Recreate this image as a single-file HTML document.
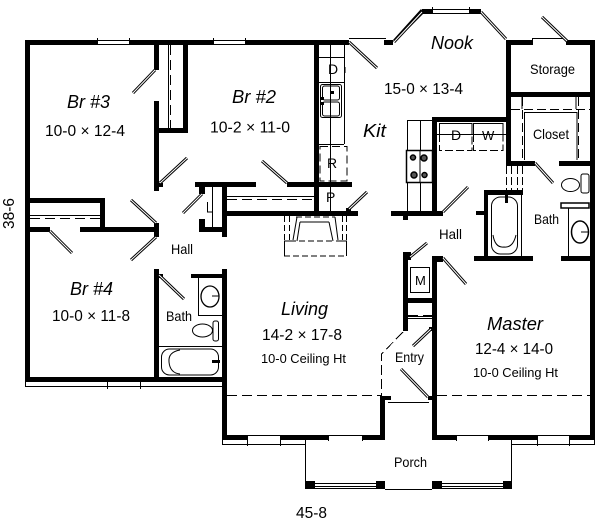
<!DOCTYPE html>
<html><head><meta charset="utf-8"><style>
html,body{margin:0;padding:0;background:#fff}
svg{display:block}
text{font-family:"Liberation Sans",sans-serif;fill:#000}
.i{font-style:italic;font-size:18px}
.d{font-size:16px}.s{font-size:14px}.c{font-size:12.5px}.t{font-size:13px}
.l{fill:none;stroke:#000;stroke-width:1}
.e{fill:none;stroke:#000;stroke-width:1;stroke-dasharray:10 5}
.f{fill:none;stroke:#000;stroke-width:3}
.g{fill:none;stroke:#fff;stroke-width:1}
</style></head><body>
<svg width="600" height="524" viewBox="0 0 600 524" xmlns="http://www.w3.org/2000/svg">
<rect width="600" height="524" fill="#fff"/>
<g fill="#000" shape-rendering="crispEdges">
<!-- outer top -->
<rect x="25" y="40" width="72" height="5"/><rect x="129" y="40" width="84" height="5"/><rect x="245" y="40" width="104" height="5"/>
<rect x="384" y="40" width="9" height="5"/><rect x="506" y="40" width="27" height="5"/><rect x="566" y="40" width="29" height="5"/>
<!-- outer left/right -->
<rect x="25" y="40" width="5" height="341"/><rect x="590" y="40" width="5" height="400"/>
<rect x="25" y="377" width="197" height="5"/>
<rect x="222" y="269" width="5" height="171"/>
<!-- bottom -->
<rect x="222" y="435" width="25" height="5"/><rect x="280" y="435" width="48" height="5"/><rect x="362" y="435" width="22" height="5"/>
<rect x="380" y="396" width="5" height="44"/><rect x="381" y="396" width="10" height="4"/>
<rect x="432" y="435" width="24" height="5"/><rect x="488" y="435" width="49" height="5"/><rect x="569" y="435" width="26" height="5"/>
<rect x="432" y="256" width="5" height="184"/><rect x="432" y="256" width="11" height="6"/>
<!-- Br3/Br2 -->
<rect x="154" y="45" width="5" height="25"/><rect x="154" y="101" width="5" height="90"/>
<rect x="183" y="45" width="5" height="88"/><rect x="154" y="128" width="34" height="5"/>
<rect x="159" y="183" width="4" height="4"/>
<!-- Br3 closet -->
<rect x="30" y="198" width="75" height="5"/><rect x="100" y="198" width="5" height="34"/>
<rect x="30" y="227" width="20" height="5"/><rect x="80" y="227" width="79" height="5"/><rect x="154" y="223" width="5" height="14"/>
<!-- lower left -->
<rect x="154" y="269" width="5" height="108"/><rect x="159" y="274" width="4" height="4"/><rect x="191" y="274" width="31" height="4"/>
<!-- centre -->
<rect x="195" y="182" width="61" height="5"/><rect x="287" y="182" width="65" height="5"/>
<rect x="222" y="182" width="5" height="55"/><rect x="199" y="187" width="6" height="7"/><rect x="199" y="219" width="6" height="13"/><rect x="199" y="227" width="28" height="5"/>
<rect x="227" y="211" width="131" height="5"/><rect x="314" y="45" width="5" height="171"/>
<rect x="346" y="208" width="5" height="4"/>
<!-- right of kitchen -->
<rect x="391" y="211" width="52" height="5"/><rect x="403" y="216" width="5" height="4"/>
<rect x="432" y="117" width="5" height="98"/><rect x="432" y="117" width="74" height="5"/>
<rect x="506" y="40" width="5" height="126"/><rect x="506" y="92" width="89" height="5"/>
<rect x="506" y="161" width="29" height="5"/><rect x="559" y="161" width="31" height="5"/>
<!-- master bath -->
<rect x="484" y="190" width="39" height="5"/><rect x="484" y="190" width="4" height="71"/><rect x="476" y="211" width="8" height="4"/>
<rect x="474" y="256" width="59" height="5"/><rect x="561" y="256" width="29" height="5"/>
<!-- hall/entry -->
<rect x="403" y="252" width="5" height="79"/><rect x="403" y="252" width="8" height="8"/><rect x="403" y="298" width="34" height="5"/>
<rect x="429" y="327" width="4" height="4"/><rect x="428" y="396" width="5" height="4"/>
<!-- nook blocks -->
<rect x="422" y="9" width="10" height="5"/><rect x="469" y="9" width="12" height="5"/>
<!-- porch posts -->
<rect x="305" y="481" width="10" height="8"/><rect x="376" y="481" width="9" height="8"/><rect x="432" y="481" width="10" height="8"/><rect x="503" y="481" width="9" height="8"/>
</g>
<polygon points="393,40 397,40 424,13 421,9" fill="#000"/>
<g class="l" shape-rendering="crispEdges" fill="none" stroke="#000">
<!-- windows -->
<path class="l" d="M97.500 38V45M129.500 38V45M97 40.500H129M97 44.500H129M213.500 38V45M245.500 38V45M213 40.500H245M213 44.500H245"/>
<path class="l" d="M432.500 7V14M469.500 7V14M432 9.500H469M432 13.500H469"/>
<path class="l" d="M25.500 381V386.500H222M107.500 377V389M140.500 377V389M107 381.500H140"/>
<path class="l" d="M222.500 440V444.500H305M247.500 435V446M280.500 435V446M247 435.500H280"/>
<path class="l" d="M328.500 435V441M362.500 435V441M328 435.500H362M456.500 435V441M488.500 435V441M456 435.500H488"/>
<path class="l" d="M512 444.500H594.500V440M537.500 435V446M569.500 435V446M537 435.500H569"/>
<!-- porch -->
<path class="l" d="M305.500 440V481M511.500 440V481M385 489.500H432M315 483.500H376M315 486.500H376M442 483.500H503M442 486.500H503M315 488.500H376M442 488.500H503"/>
<!-- door thresholds -->
<path class="l" d="M349 38.500H386M532 38.500H566M388 402.500H429M532.500 38V40M565.500 38V40"/>
<!-- closets -->
<path class="l" d="M168.500 45V128"/><path class="e" d="M170.500 45V128"/>
<path class="l" d="M30 215.500H100"/><path class="e" d="M30 218.500H100"/>
<path class="l" d="M227 196.500H314"/><path class="e" d="M227 199.500H314"/>
<path class="l" d="M212.500 187V227M207.500 202V212H212"/>
<path class="l" d="M408 316.500H432"/><path class="e" d="M408 315.500H432"/><path class="l" d="M408 318.500H432"/>
<!-- M -->
<path class="l" d="M410.500 267.500H429.500V292.500H410.500Z"/>
<!-- ceiling -->
<path class="e" d="M227 395.500H381M437 395.500H590"/>
<path class="e" style="stroke-dasharray:10 4" d="M403 332L381.500 354V396"/>
<!-- kitchen -->
<path class="l" d="M330.500 45V211M344.500 45V144M318 144.500H344M318 57.500H344M318 82.500H344"/>
<path class="e" d="M320 146.500H347V181H320V146" style="stroke-dasharray:8 4"/>
<path class="l" d="M407.500 120V211M420.500 120V211M407 120.500H432"/>
<!-- laundry -->
<path class="l" d="M437 134.500H506M439.500 134V123.500H472V134M473.500 134V123.500H503V134"/>
<path class="e" style="stroke-dasharray:8 3" d="M439.500 134V150.500H472V134M473.500 134V150.500H503V134"/>
<!-- master closet -->
<path class="l" d="M524.500 160V112.500H577V160"/>
<path class="e" style="stroke-dasharray:9 4" d="M511 109.500H590M522.500 97V161M578.500 97V161"/>
<path class="l" d="M522 97V109M576 97V109"/>
<!-- shower lines -->
<path class="e" style="stroke-dasharray:8 3" d="M506.500 166V190M511.500 166V190M517.500 166V190M522.500 166V190"/>
<path class="l" d="M521.500 195V256M568.500 208V256"/>
<!-- left bath -->
<path class="l" d="M198.500 278V315.500H222M159 346.500H222"/>
</g>
<!-- fireplace -->
<g>
<path class="e" style="stroke-dasharray:6 3" d="M284.500 216V240M289.500 216V240M346.500 216V240M342.500 216V240M284 256H347M299 241H332M296 217H335"/>
<path class="l" d="M284.500 241V256M346.500 241V256M284 241H296M336 241H347M293 240L297 217M338 240L335 217"/>
<path class="l" d="M300 222H329"/>
<path class="l" d="M300 222L297 241M329 222L333 241"/>
</g>
<!-- nook frames -->
<path class="f" d="M394 42L422 12"/><path class="g" d="M394 42L422 12"/>
<path class="f" d="M481 12L506 39"/><path class="g" d="M481 12L506 39"/>
<!-- door swings -->
<path class="f" d="M155 70L133 93M160 183L187 158M262 161L287 183M131 200L156 223M50 231L72 253M156 237L131 260M202 194L183 213M349 42L377 68M567 41L542 17M443 212L468 187M349 209L367 192M535 163L553 183M410 257L427 243M443 258L466 284M159 275L184 299M431 329L413 346M428 397L401 369"/>
<path class="g" d="M155 70L133 93M160 183L187 158M262 161L287 183M131 200L156 223M50 231L72 253M156 237L131 260M202 194L183 213M349 42L377 68M567 41L542 17M443 212L468 187M349 209L367 192M535 163L553 183M410 257L427 243M443 258L466 284M159 275L184 299M431 329L413 346M428 397L401 369"/>
<!-- fixtures -->
<g class="l">
<rect x="320.500" y="84.500" width="21" height="33" rx="2" class="l"/>
<rect x="322.500" y="86" width="17" height="14" rx="2" class="l"/><rect x="322.500" y="102" width="17" height="14" rx="2" class="l"/>
<rect x="491.500" y="197" width="26" height="57" rx="9" class="l"/>
<path class="l" d="M493 235Q495 248 504 247Q513 248 516 235"/>
<ellipse cx="580" cy="232" rx="8.500" ry="11" class="l" style="stroke-width:1.500"/>
<path class="l" d="M581 232H589"/>
<ellipse cx="570.500" cy="185" rx="9" ry="6.500" class="l"/>
<rect x="581" y="174" width="8" height="19" rx="2" class="l"/>
<rect x="561" y="203" width="28" height="5" class="l" style="stroke-width:1.500"/>
<ellipse cx="210" cy="296.500" rx="9" ry="10.500" class="l" style="stroke-width:1.300"/>
<path class="l" d="M212 296H219"/>
<ellipse cx="202.500" cy="330.500" rx="10" ry="6.500" class="l"/>
<rect x="213" y="321" width="5.500" height="20" rx="2" class="l"/>
<rect x="161.500" y="349" width="57" height="26" rx="8" class="l"/>
<path class="l" d="M180 350Q168 352 169 362Q170 373 180 374"/>
</g>
<rect x="505" y="195" width="3" height="8" fill="#000"/>
<rect x="212" y="360" width="8" height="3" fill="#000"/>
<rect x="344" y="67" width="1.500" height="6" fill="#000"/>
<rect x="320" y="97" width="4" height="3" fill="#000"/><rect x="320" y="102" width="4" height="3" fill="#000"/><rect x="331" y="91" width="3" height="3" fill="#000"/>
<!-- stove -->
<rect x="406.500" y="150.500" width="26" height="32" fill="#fff" stroke="#000" stroke-width="1.500"/>
<path class="l" d="M420 151V182"/>
<g fill="#555" stroke="#000" stroke-width="1.500"><circle cx="413" cy="157.500" r="2.500"/><circle cx="424" cy="158" r="3"/><circle cx="414" cy="175" r="3"/><circle cx="424.500" cy="175" r="2.500"/></g>
<!-- text -->
<text class="i" x="67" y="108" textLength="43" lengthAdjust="spacingAndGlyphs">Br #3</text>
<text class="d" x="45" y="136" textLength="80" lengthAdjust="spacingAndGlyphs">10-0 × 12-4</text>
<text class="i" x="232" y="103" textLength="44" lengthAdjust="spacingAndGlyphs">Br #2</text>
<text class="d" x="210" y="132.500" textLength="80" lengthAdjust="spacingAndGlyphs">10-2 × 11-0</text>
<text class="i" x="431" y="49" textLength="42" lengthAdjust="spacingAndGlyphs">Nook</text>
<text class="d" x="384" y="94" textLength="79" lengthAdjust="spacingAndGlyphs">15-0 × 13-4</text>
<text class="s" x="530" y="74" textLength="45" lengthAdjust="spacingAndGlyphs">Storage</text>
<text class="s" x="533" y="139" textLength="36" lengthAdjust="spacingAndGlyphs">Closet</text>
<text class="i" x="363" y="137" textLength="23" lengthAdjust="spacingAndGlyphs">Kit</text>
<text class="s" x="534" y="224" textLength="25" lengthAdjust="spacingAndGlyphs">Bath</text>
<text class="s" x="439" y="239" textLength="23" lengthAdjust="spacingAndGlyphs">Hall</text>
<text class="s" x="171" y="254" textLength="22" lengthAdjust="spacingAndGlyphs">Hall</text>
<text class="s" x="166" y="321" textLength="26" lengthAdjust="spacingAndGlyphs">Bath</text>
<text class="i" x="70" y="295" textLength="43" lengthAdjust="spacingAndGlyphs">Br #4</text>
<text class="d" x="52" y="321" textLength="78" lengthAdjust="spacingAndGlyphs">10-0 × 11-8</text>
<text class="i" x="281" y="315" textLength="47" lengthAdjust="spacingAndGlyphs">Living</text>
<text class="d" x="262" y="340" textLength="80" lengthAdjust="spacingAndGlyphs">14-2 × 17-8</text>
<text class="c" x="261" y="363" textLength="85" lengthAdjust="spacingAndGlyphs">10-0 Ceiling Ht</text>
<text class="s" x="395" y="362" textLength="29" lengthAdjust="spacingAndGlyphs">Entry</text>
<text class="i" x="487" y="330" textLength="56" lengthAdjust="spacingAndGlyphs">Master</text>
<text class="d" x="475" y="354" textLength="78" lengthAdjust="spacingAndGlyphs">12-4 × 14-0</text>
<text class="c" x="473" y="377" textLength="85" lengthAdjust="spacingAndGlyphs">10-0 Ceiling Ht</text>
<text class="s" x="394" y="467" textLength="33" lengthAdjust="spacingAndGlyphs">Porch</text>
<text class="d" x="296" y="518" textLength="31" lengthAdjust="spacingAndGlyphs">45-8</text>
<text class="d" transform="translate(14,229) rotate(-90)" textLength="31" lengthAdjust="spacingAndGlyphs">38-6</text>
<text class="s" x="328" y="74">D</text>
<text class="s" x="327" y="168">R</text>
<text class="s" x="326" y="202">P</text>
<text class="s" x="451" y="140">D</text>
<text class="t" x="482" y="140">W</text>
<text class="t" x="415" y="285">M</text>
</svg>
</body></html>
